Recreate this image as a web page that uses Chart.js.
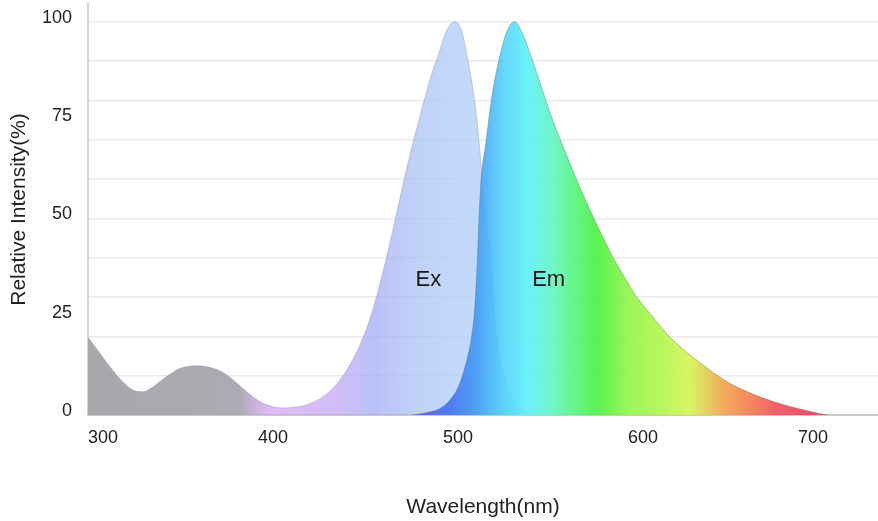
<!DOCTYPE html>
<html>
<head>
<meta charset="utf-8">
<title>Ex / Em spectrum</title>
<script src="https://cdn.jsdelivr.net/npm/chart.js@4.4.1/dist/chart.umd.min.js"></script>
<style>
  html, body { margin: 0; padding: 0; background: #fff; }
  #wrap { width: 878px; height: 521px; }
</style>
</head>
<body>
<div id="wrap"><canvas id="spectrum"></canvas></div>
<script>
// Excitation curve
const exWavelengths = [300, 305, 310, 315, 320, 325, 330, 335, 340, 345, 350, 355, 360, 365, 370, 375, 380, 385, 390, 395,
  400, 405, 410, 415, 420, 425, 430, 435, 440, 445, 450, 455, 460, 465, 470, 475, 480, 485, 490, 493, 495,
  498, 500, 502.5, 505, 508, 510, 512, 513, 515, 518, 520, 525, 530, 535, 540];
const exValues = [19.8, 16.6, 13.4, 10.4, 7.9, 6.2, 5.9, 7.1, 8.9, 10.6, 11.9, 12.4, 12.5, 12.2, 11.5, 10.2, 8.3, 6.2, 4.3, 2.9,
  2.1, 1.8, 1.9, 2.2, 2.9, 4.0, 5.7, 8.2, 11.5, 15.8, 21.3, 28.5, 37.5, 47.5, 58, 68, 77, 85.5, 92.5, 96.8, 98.7,
  100, 99.6, 96.8, 91, 83, 76, 66, 60, 50, 39, 24, 9.5, 4, 1.2, 0.3];

// Emission curve
const emWavelengths = [475, 480, 485, 490, 495, 500, 503, 505, 507, 509, 510.5, 511.5, 512.5, 515, 518, 522, 526, 530.5,
  535, 540, 545, 550, 555, 560, 565, 570, 575, 580, 585, 590, 595, 600, 605, 610, 615, 620, 625, 630, 635, 640,
  645, 650, 660, 670, 680, 690, 695, 700];
const emValues = [0, 0.3, 0.8, 1.6, 3.5, 7, 11, 14.5, 19, 27, 40, 52, 60, 69, 80, 90, 97, 100,
  96.8, 90.5, 83.5, 76.5, 70.3, 64.5, 58.8, 53.5, 48.4, 43.6, 39, 35, 31.1, 27.9, 25.1, 22.2, 19.6, 17.4, 15.4, 13.6, 11.8, 10.1,
  8.6, 7.3, 5.2, 3.5, 2.1, 0.95, 0.4, 0];

// axes
const xTicks = [300, 400, 500, 600, 700];
const yTicks = [0, 25, 50, 75, 100];

// curve names written inside the fills
const labelNames = ['Ex', 'Em'];
const labelWl = [484, 549];
const labelLevel = [34.3, 34.3];

// colour stops along the wavelength axis
const exStops = [
  [300, 'rgba(163,163,168,0.95)'],
  [382, 'rgba(168,166,174,0.95)'],
  [398, 'rgba(212,165,246,0.75)'],
  [430, 'rgba(196,165,246,0.72)'],
  [455, 'rgba(160,168,246,0.72)'],
  [478, 'rgba(168,192,246,0.72)'],
  [500, 'rgba(178,206,248,0.78)'],
  [540, 'rgba(178,206,248,0.78)']
];
const emStops = [
  [477, 'rgba(95,85,240,0.92)'],
  [495, 'rgba(70,115,245,0.92)'],
  [510, 'rgba(65,155,245,0.9)'],
  [525, 'rgba(80,210,250,0.88)'],
  [537, 'rgba(95,240,250,0.92)'],
  [552, 'rgba(100,245,190,0.92)'],
  [565, 'rgba(85,245,115,0.92)'],
  [575, 'rgba(75,242,65,0.92)'],
  [592, 'rgba(145,245,75,0.92)'],
  [610, 'rgba(178,245,80,0.92)'],
  [625, 'rgba(212,245,85,0.92)'],
  [642, 'rgba(238,170,80,0.92)'],
  [657, 'rgba(245,128,80,0.92)'],
  [672, 'rgba(245,82,92,0.92)'],
  [700, 'rgba(240,60,92,0.92)']
];

const FONT = '"Liberation Sans", Arial, Helvetica, sans-serif';

function spectrumFill(stops) {
  return function (context) {
    const chart = context.chart;
    const area = chart.chartArea;
    const x = chart.scales.x;
    if (!area || !x) return stops[0][1];
    const g = chart.ctx.createLinearGradient(area.left, 0, area.right, 0);
    stops.forEach(([wl, c]) => {
      const p = (x.getPixelForValue(wl) - area.left) / (area.right - area.left);
      g.addColorStop(Math.min(1, Math.max(0, p)), c);
    });
    return g;
  };
}

function toPoints(xs, ys) {
  return xs.map((wl, i) => ({ x: wl, y: ys[i] }));
}

// draws "Ex" and "Em" over the fills
const peakLabels = {
  id: 'peakLabels',
  afterDatasetsDraw(chart) {
    const { ctx, scales: { x, y } } = chart;
    ctx.save();
    ctx.font = '22px ' + FONT;
    ctx.fillStyle = '#151515';
    ctx.textAlign = 'center';
    ctx.textBaseline = 'middle';
    labelNames.forEach((t, i) => {
      ctx.fillText(t, x.getPixelForValue(labelWl[i]), y.getPixelForValue(labelLevel[i]));
    });
    ctx.restore();
  }
};

new Chart(document.getElementById('spectrum'), {
  type: 'line',
  data: {
    datasets: [
      {
        label: 'Em',
        data: toPoints(emWavelengths, emValues),
        fill: 'origin',
        backgroundColor: spectrumFill(emStops),
        borderColor: 'rgba(110,120,110,0.45)',
        borderWidth: 1,
        pointRadius: 0,
        cubicInterpolationMode: 'monotone'
      },
      {
        label: 'Ex',
        data: toPoints(exWavelengths, exValues),
        fill: 'origin',
        backgroundColor: spectrumFill(exStops),
        borderColor: 'rgba(130,130,150,0.35)',
        borderWidth: 1,
        pointRadius: 0,
        cubicInterpolationMode: 'monotone'
      }
    ]
  },
  options: {
    responsive: true,
    maintainAspectRatio: false,
    animation: false,
    layout: { padding: { top: 4, right: 0, bottom: 0, left: 0 } },
    plugins: {
      legend: { display: false },
      tooltip: { enabled: false }
    },
    scales: {
      x: {
        type: 'linear',
        min: 300,
        max: 727,
        afterFit: (scale) => {
          scale.height = 106;
          scale.paddingLeft = 0;
          scale.paddingRight = 0;
        },
        afterBuildTicks: (scale) => {
          scale.ticks = xTicks.map(v => ({ value: v }));
        },
        grid: { display: false, drawTicks: false },
        border: { display: true, color: '#c9c9c9', width: 2 },
        ticks: {
          autoSkip: false,
          maxRotation: 0,
          padding: 12,
          align: 'inner',
          color: '#222',
          font: { family: FONT, size: 18 }
        },
        title: {
          display: true,
          text: 'Wavelength(nm)',
          color: '#222',
          font: { family: FONT, size: 21 },
          padding: { top: 0, bottom: 1 }
        }
      },
      y: {
        min: 0,
        max: 104.5,
        afterFit: (scale) => {
          scale.width = 88;
          scale.paddingTop = 0;
          scale.paddingBottom = 0;
        },
        afterBuildTicks: (scale) => {
          const t = [];
          for (let v = 0; v <= 100; v += 5) t.push({ value: v });
          scale.ticks = t;
        },
        grid: {
          drawTicks: false,
          lineWidth: 1.5,
          color: (ctx) => (ctx.tick && ctx.tick.value > 0 && ctx.tick.value % 10 === 0) ? '#ebebeb' : 'rgba(0,0,0,0)'
        },
        border: { display: true, color: '#d4d4d4', width: 2 },
        ticks: {
          autoSkip: false,
          padding: 16,
          labelOffset: -4,
          color: '#222',
          font: { family: FONT, size: 18 },
          callback: (v) => yTicks.includes(v) ? String(v) : ''
        },
        title: {
          display: true,
          text: 'Relative Intensity(%)',
          color: '#222',
          font: { family: FONT, size: 21 },
          padding: { top: 7, bottom: 0 }
        }
      }
    }
  },
  plugins: [peakLabels]
});
</script>
</body>
</html>
